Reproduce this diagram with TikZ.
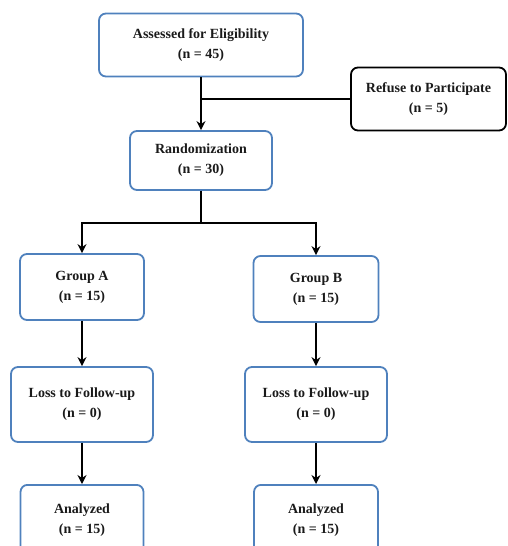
\documentclass[tikz,border=0pt]{standalone}
\usepackage{fontspec}
\setmainfont{Liberation Serif}
\usetikzlibrary{arrows.meta}
\definecolor{boxblue}{HTML}{4F81BD}
\definecolor{txt}{HTML}{1A1A1A}
\begin{document}
\begin{tikzpicture}[x=1pt,y=1pt,
  box/.style={draw=boxblue, line width=1.8pt, rounded corners=7pt, align=center,
    font=\fontsize{14}{20}\selectfont\bfseries, text=txt, inner sep=0pt},
  blackbox/.style={box, draw=black},
  conn/.style={line width=2pt, black},
  arr/.style={conn, -{Stealth[length=9pt,width=9pt,inset=3pt]}}]
\useasboundingbox (0,0) rectangle (508,-546);
\begin{scope}
\clip (0,0) rectangle (508,-546);
\node[box, minimum width=204pt, minimum height=63pt] (assess) at (201,-45) {Assessed for Eligibility\\(n = 45)};
\node[blackbox, minimum width=155pt, minimum height=63pt] (refuse) at (428.5,-99) {Refuse to Participate\\(n = 5)};
\node[box, minimum width=142pt, minimum height=59pt] (rand) at (201,-160.5) {Randomization\\(n = 30)};
\node[box, minimum width=124pt, minimum height=66pt] (ga) at (82,-287) {Group A\\(n = 15)};
\node[box, minimum width=125pt, minimum height=66pt] (gb) at (316,-289) {Group B\\(n = 15)};
\node[box, minimum width=142pt, minimum height=75pt] (la) at (82,-404.5) {Loss to Follow-up\\(n = 0)};
\node[box, minimum width=142pt, minimum height=75pt] (lb) at (316,-404.5) {Loss to Follow-up\\(n = 0)};
\node[box, minimum width=123pt, minimum height=70pt, anchor=north] (aa) at (82,-484) {Analyzed\\(n = 15)};
\node[box, minimum width=124pt, minimum height=70pt, anchor=north] (ab) at (316,-484) {Analyzed\\(n = 15)};
\coordinate (split) at (201,-223);
\draw[arr] (assess.south) -- (rand.north);
\draw[conn] (refuse.west) -- (refuse.west -| assess.south);
\draw[conn] (rand.south) -- (split);
\draw[arr] (split) -| (ga.north);
\draw[arr] (split) -| (gb.north);
\draw[arr] (ga.south) -- (la.north);
\draw[arr] (gb.south) -- (lb.north);
\draw[arr] (la.south) -- (aa.north);
\draw[arr] (lb.south) -- (ab.north);
\end{scope}
\end{tikzpicture}
\end{document}
